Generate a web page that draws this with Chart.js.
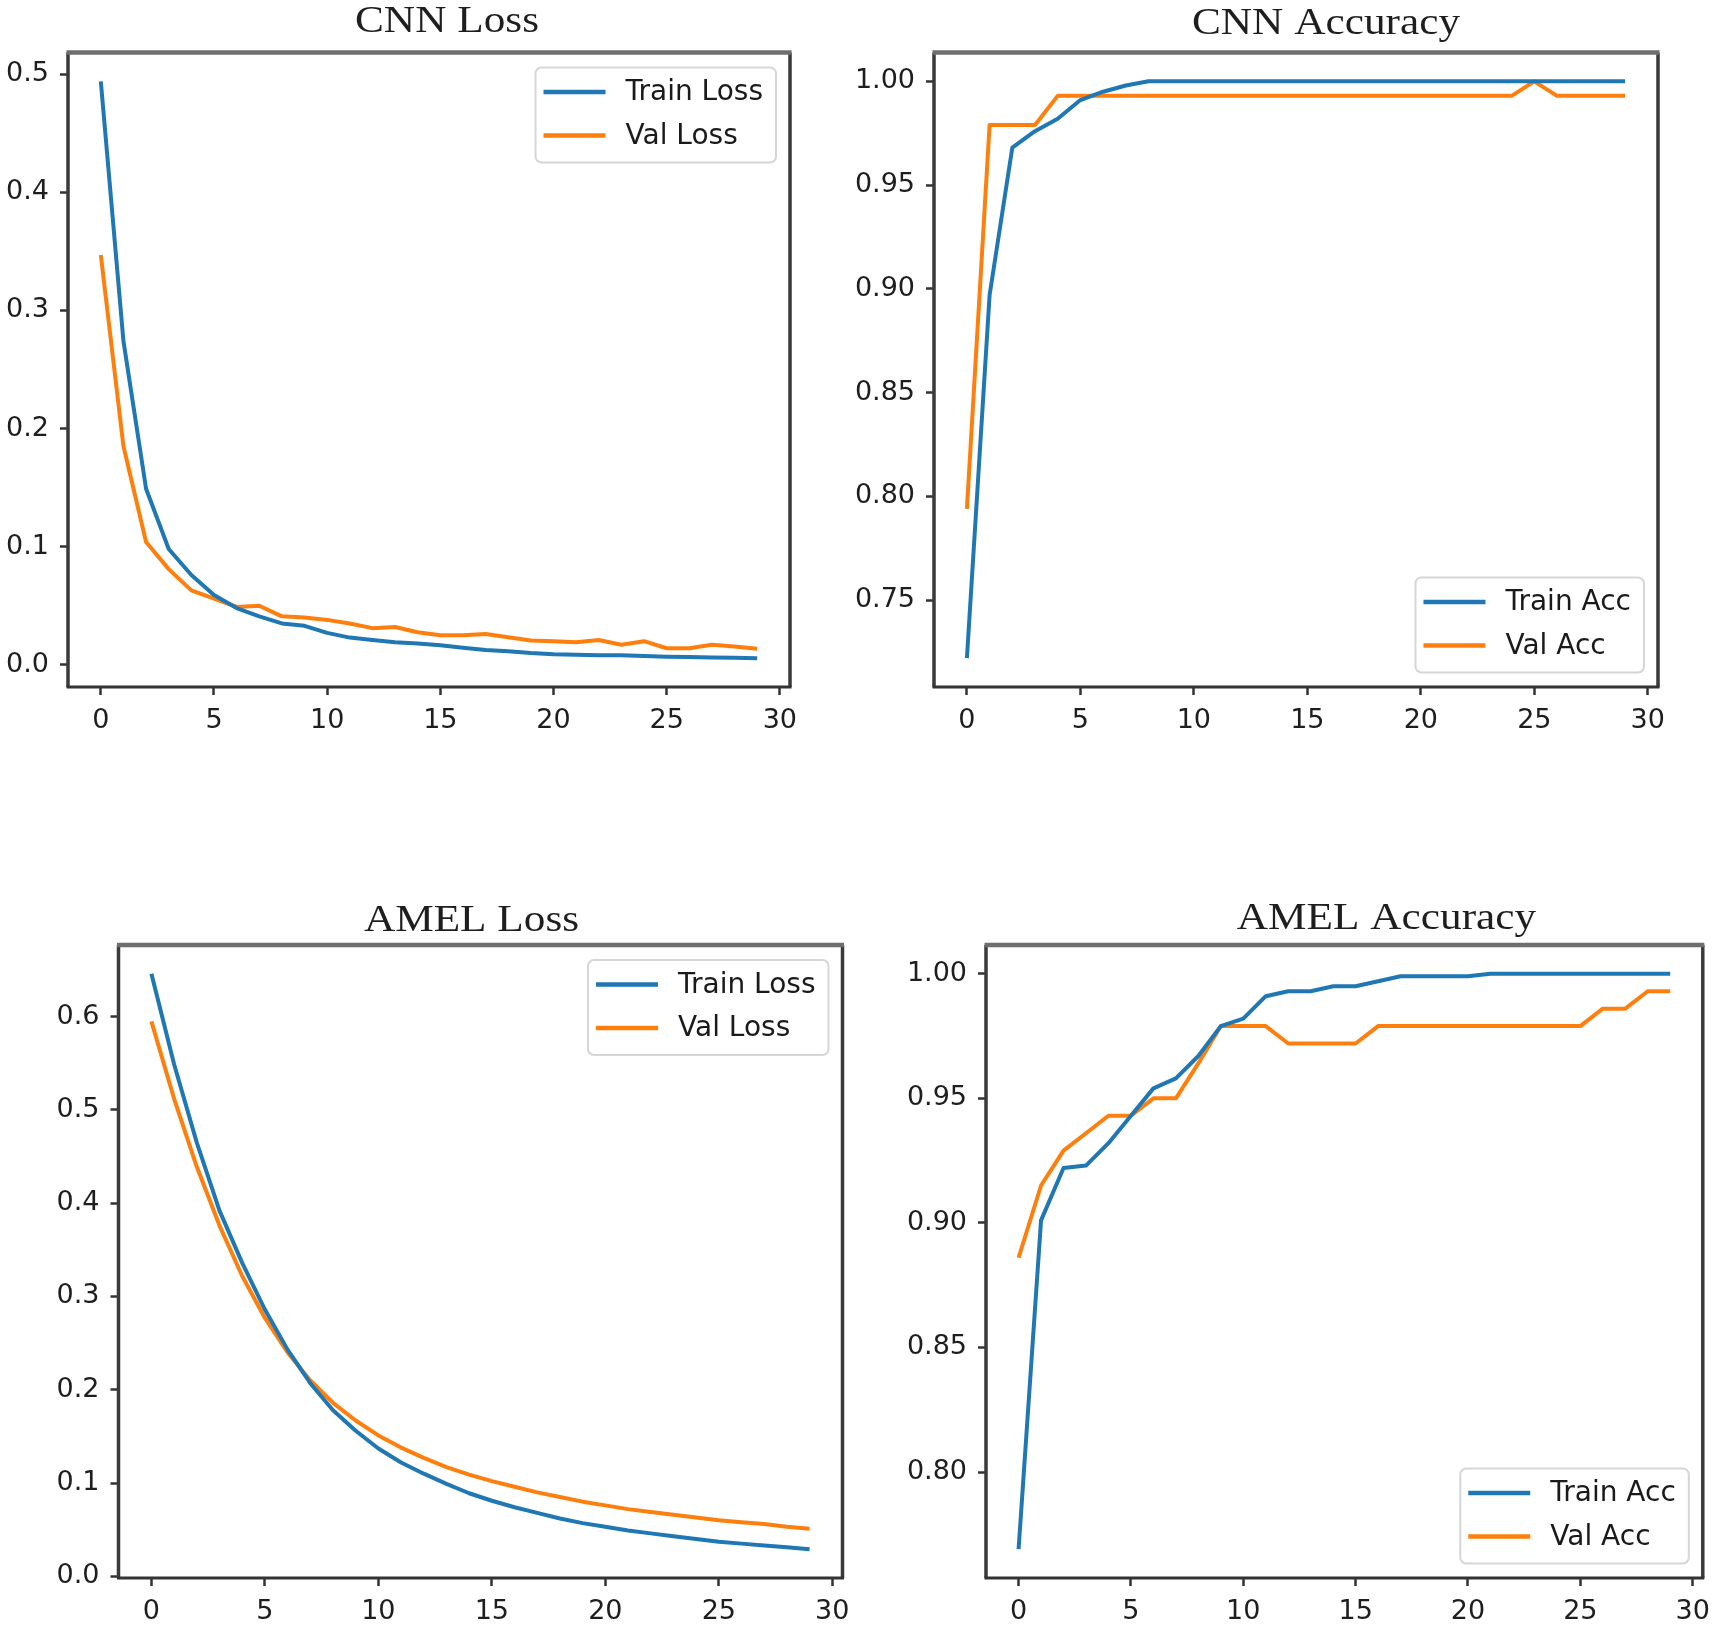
<!DOCTYPE html>
<html>
<head>
<meta charset="utf-8">
<script src="https://cdn.jsdelivr.net/npm/chart.js@4.4.1/dist/chart.umd.min.js"></script>
<style>
html,body{margin:0;padding:0;background:#fff;}
#wrap{position:relative;width:1720px;height:1625px;overflow:hidden;background:#fff;}
#wrap canvas{position:absolute;left:0;top:0;}
</style>
</head>
<body>
<div id="wrap">
<canvas id="cnnLoss" width="1720" height="1625"></canvas>
<canvas id="cnnAcc" width="1720" height="1625"></canvas>
<canvas id="amelLoss" width="1720" height="1625"></canvas>
<canvas id="amelAcc" width="1720" height="1625"></canvas>
</div>
<script>
// ---------- data ----------
const epochs = [0,1,2,3,4,5,6,7,8,9,10,11,12,13,14,15,16,17,18,19,20,21,22,23,24,25,26,27,28,29];
const xTicks = [0,5,10,15,20,25,30];

const cnnLossTicks = [0.0,0.1,0.2,0.3,0.4,0.5];
const cnnAccTicks = [0.75,0.80,0.85,0.90,0.95,1.00];
const amelLossTicks = [0.0,0.1,0.2,0.3,0.4,0.5,0.6];
const amelAccTicks = [0.80,0.85,0.90,0.95,1.00];

const cnnTrainLoss = [0.494,0.274,0.149,0.098,0.076,0.059,0.048,0.041,0.035,0.033,0.027,0.023,0.021,0.019,0.018,0.0165,0.0145,0.0125,0.0115,0.010,0.009,0.0085,0.008,0.008,0.0075,0.0068,0.0065,0.0062,0.006,0.0056];
const cnnValLoss   = [0.347,0.185,0.104,0.081,0.063,0.056,0.049,0.050,0.041,0.040,0.038,0.035,0.031,0.032,0.0275,0.025,0.025,0.026,0.0233,0.0205,0.020,0.019,0.021,0.017,0.020,0.014,0.014,0.017,0.0155,0.0135];

const cnnTrainAcc = [0.722,0.897,0.968,0.976,0.982,0.991,0.995,0.998,1,1,1,1,1,1,1,1,1,1,1,1,1,1,1,1,1,1,1,1,1,1];
const cnnValAcc   = [0.794,0.979,0.979,0.979,0.993,0.993,0.993,0.993,0.993,0.993,0.993,0.993,0.993,0.993,0.993,0.993,0.993,0.993,0.993,0.993,0.993,0.993,0.993,0.993,0.993,1.0,0.993,0.993,0.993,0.993];

const amelTrainLoss = [0.646,0.549,0.465,0.392,0.336,0.286,0.243,0.207,0.178,0.156,0.137,0.122,0.110,0.099,0.089,0.081,0.074,0.068,0.062,0.057,0.053,0.049,0.046,0.043,0.040,0.037,0.035,0.033,0.031,0.029];
const amelValLoss   = [0.595,0.512,0.439,0.376,0.322,0.277,0.240,0.210,0.186,0.167,0.151,0.138,0.127,0.117,0.109,0.102,0.096,0.090,0.085,0.080,0.076,0.072,0.069,0.066,0.063,0.060,0.058,0.056,0.053,0.051];

const amelTrainAcc = [0.769,0.901,0.922,0.923,0.932,0.943,0.954,0.958,0.967,0.979,0.982,0.991,0.993,0.993,0.995,0.995,0.997,0.999,0.999,0.999,0.999,1,1,1,1,1,1,1,1,1];
const amelValAcc   = [0.886,0.915,0.929,0.936,0.943,0.943,0.950,0.950,0.964,0.979,0.979,0.979,0.972,0.972,0.972,0.972,0.979,0.979,0.979,0.979,0.979,0.979,0.979,0.979,0.979,0.979,0.986,0.986,0.993,0.993];

// ---------- style ----------
const BLUE = '#1f77b4', ORANGE = '#ff7f0e';
const PAGE_W = 1720, PAGE_H = 1625;
const X_AXIS_H = 60;

const panelPlugin = {
  id: 'panel',
  afterDatasetsDraw(chart, args, o) {
    const ctx = chart.ctx, a = chart.chartArea;
    ctx.save();
    // frame (spines)
    ctx.lineCap = 'butt';
    ctx.strokeStyle = '#3a3a3a';
    ctx.lineWidth = 3.5;
    ctx.beginPath();
    ctx.moveTo(a.left, a.top); ctx.lineTo(a.left, a.bottom);
    ctx.moveTo(a.right, a.top); ctx.lineTo(a.right, a.bottom);
    ctx.stroke();
    ctx.lineWidth = 2.8;
    ctx.strokeStyle = '#333';
    ctx.beginPath();
    ctx.moveTo(a.left - 1.5, a.bottom); ctx.lineTo(a.right + 1.5, a.bottom);
    ctx.stroke();
    ctx.lineWidth = 4.5;
    ctx.strokeStyle = '#6e6e6e';
    ctx.beginPath();
    ctx.moveTo(a.left - 1.5, a.top); ctx.lineTo(a.right + 1.5, a.top);
    ctx.stroke();

    // legend
    ctx.font = '28px "DejaVu Sans"';
    const ds = chart.data.datasets;
    const tw = Math.max(...ds.map(d => ctx.measureText(d.label).width));
    const w = 8 + 62 + 20 + tw + 13, h = 95;
    const x = a.right - 14 - w;
    const y = o.legend === 'upper' ? a.top + 15 : a.bottom - 14.5 - h;
    ctx.beginPath();
    ctx.roundRect(x, y, w, h, 6);
    ctx.fillStyle = 'rgba(255,255,255,0.85)';
    ctx.fill();
    ctx.lineWidth = 2;
    ctx.strokeStyle = '#d6d6d6';
    ctx.stroke();
    const rows = [y + 24.5, y + 68];
    ds.forEach((d, i) => {
      ctx.beginPath();
      ctx.strokeStyle = d.borderColor;
      ctx.lineWidth = 4.5;
      ctx.moveTo(x + 8, rows[i]); ctx.lineTo(x + 70, rows[i]);
      ctx.stroke();
      ctx.fillStyle = '#1a1a1a';
      ctx.textAlign = 'left';
      ctx.textBaseline = 'middle';
      ctx.fillText(d.label, x + 90, rows[i] + 1);
    });

    // title
    ctx.font = '37px "Liberation Serif"';
    ctx.fillStyle = '#1e1e1e';
    ctx.textAlign = 'center';
    ctx.textBaseline = 'alphabetic';
    ctx.translate(o.titleX, o.titleY);
    ctx.scale(1.17, 1);
    ctx.fillText(o.title, 0, 0);
    ctx.restore();
  }
};

function yRange(arrs) {
  const all = [].concat(...arrs);
  const mn = Math.min(...all), mx = Math.max(...all);
  const m = (mx - mn) * 0.05;
  return [mn - m, mx + m];
}

function makePanel(id, opt) {
  const [ymin, ymax] = yRange([opt.train, opt.val]);
  const area = opt.area;
  const yW = opt.yAxisW;
  new Chart(document.getElementById(id), {
    type: 'line',
    data: {
      datasets: [
        { label: opt.labels[0], data: epochs.map((e, i) => ({x: e, y: opt.train[i]})),
          borderColor: BLUE, backgroundColor: BLUE, borderWidth: 4, pointRadius: 0,
          tension: 0, borderJoinStyle: 'round', fill: false },
        { label: opt.labels[1], data: epochs.map((e, i) => ({x: e, y: opt.val[i]})),
          borderColor: ORANGE, backgroundColor: ORANGE, borderWidth: 4, pointRadius: 0,
          tension: 0, borderJoinStyle: 'round', fill: false }
      ]
    },
    options: {
      responsive: false,
      animation: false,
      events: [],
      devicePixelRatio: 1,
      layout: {
        padding: {
          left: area.left - yW,
          top: area.top,
          right: PAGE_W - area.right,
          bottom: PAGE_H - area.bottom - X_AXIS_H
        }
      },
      scales: {
        x: {
          type: 'linear',
          min: -1.45, max: 30.45,
          afterFit: s => { s.height = X_AXIS_H; },
          afterBuildTicks: s => { s.ticks = xTicks.map(v => ({value: v})); },
          ticks: { color: '#1e1e1e', font: {family: 'DejaVu Sans', size: 27}, padding: 10,
                   maxRotation: 0, autoSkip: false, callback: v => String(v) },
          grid: { display: true, drawOnChartArea: false, drawTicks: true, tickLength: 8,
                  tickWidth: 2.5, tickColor: '#333', color: '#333' },
          border: { display: false }
        },
        y: {
          type: 'linear',
          min: ymin, max: ymax,
          afterFit: s => { s.width = yW; },
          afterBuildTicks: s => { s.ticks = opt.ticks.map(v => ({value: v})); },
          ticks: { color: '#1e1e1e', font: {family: 'DejaVu Sans', size: 27}, padding: 11,
                   autoSkip: false, callback: v => v.toFixed(opt.dec) },
          grid: { display: true, drawOnChartArea: false, drawTicks: true, tickLength: 8,
                  tickWidth: 2.5, tickColor: '#333', color: '#333' },
          border: { display: false }
        }
      },
      plugins: {
        legend: { display: false },
        title: { display: false },
        tooltip: { enabled: false },
        panel: { title: opt.title, titleX: opt.titleX, titleY: opt.titleY, legend: opt.legend }
      }
    },
    plugins: [panelPlugin]
  });
}

makePanel('cnnLoss', {
  train: cnnTrainLoss, val: cnnValLoss, ticks: cnnLossTicks, dec: 1, yAxisW: 66,
  labels: ['Train Loss', 'Val Loss'], title: 'CNN Loss', titleX: 447, titleY: 32,
  legend: 'upper', area: {left: 68, top: 52.5, right: 790, bottom: 687}
});
makePanel('cnnAcc', {
  train: cnnTrainAcc, val: cnnValAcc, ticks: cnnAccTicks, dec: 2, yAxisW: 90,
  labels: ['Train Acc', 'Val Acc'], title: 'CNN Accuracy', titleX: 1326, titleY: 34,
  legend: 'lower', area: {left: 934, top: 52.5, right: 1658, bottom: 687}
});
makePanel('amelLoss', {
  train: amelTrainLoss, val: amelValLoss, ticks: amelLossTicks, dec: 1, yAxisW: 90,
  labels: ['Train Loss', 'Val Loss'], title: 'AMEL Loss', titleX: 471.5, titleY: 931,
  legend: 'upper', area: {left: 118.5, top: 945, right: 842.5, bottom: 1578}
});
makePanel('amelAcc', {
  train: amelTrainAcc, val: amelValAcc, ticks: amelAccTicks, dec: 2, yAxisW: 90,
  labels: ['Train Acc', 'Val Acc'], title: 'AMEL Accuracy', titleX: 1386.5, titleY: 929,
  legend: 'lower', area: {left: 986, top: 945, right: 1710, bottom: 1578}
});
</script>
</body>
</html>
